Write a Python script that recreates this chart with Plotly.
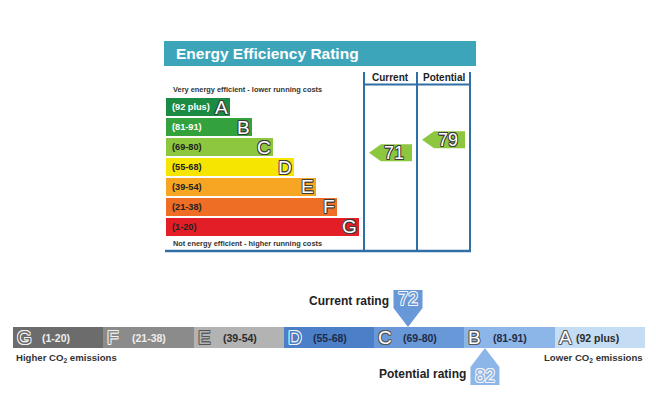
import plotly.graph_objects as go

W, H = 656, 411
FONT = "Liberation Sans, Arial, sans-serif"

# ---------------- data ----------------
bands = ["A", "B", "C", "D", "E", "F", "G"]
band_ranges = ["(92 plus)", "(81-91)", "(69-80)", "(55-68)", "(39-54)", "(21-38)", "(1-20)"]
band_lo = [92, 81, 69, 55, 39, 21, 1]
band_hi = [100, 91, 80, 68, 54, 38, 20]
band_lengths = [3, 4, 5, 6, 7, 8, 9]
eer_colors = ["#1b8a43", "#33a23d", "#8dc63f", "#f6e500", "#f6a623", "#ee6e25", "#e31e26"]
eer_text_colors = ["white", "white", "#222222", "#222222", "#222222", "#222222", "#222222"]

current_eer = 71
potential_eer = 79

# environmental impact strip (same bands, shown G -> A)
co2_colors = {"G": "#6c6c6c", "F": "#8b8b8b", "E": "#b3b3b3", "D": "#4b7fc8",
              "C": "#6898d7", "B": "#8db6e8", "A": "#c4dcf4"}
co2_text_colors = {"G": "#eeeeee", "F": "#eeeeee", "E": "#2b2b2b", "D": "#1e2c48",
                   "C": "#1e2c48", "B": "#1e2c48", "A": "#2b2b2b"}
current_ei = 72
potential_ei = 82

title_text = "Energy Efficiency Rating"
top_note = "Very energy efficient - lower running costs"
bottom_note = "Not energy efficient - higher running costs"
col_headers = ["Current", "Potential"]


def px(x):
    return x / W


def py(y):
    return 1 - y / H


def band_of(v):
    for i, (lo, hi) in enumerate(zip(band_lo, band_hi)):
        if lo <= v <= hi:
            return i
    return len(bands) - 1


def outline(c, w=1):
    return ", ".join(f"{a}px {b}px 0 {c}" for a, b in [(-w, -w), (w, -w), (-w, w), (w, w), (0, w), (0, -w), (w, 0), (-w, 0)])


HB = 0.453  # half bar thickness in band units


def eer_y(v):
    i = band_of(v)
    return i + HB - (v - band_lo[i]) / (band_hi[i] - band_lo[i]) * 2 * HB


def ei_x(v):
    i = band_of(v)
    j = len(bands) - 1 - i
    return j + (v - band_lo[i] + 1.5) / (band_hi[i] - band_lo[i] + 1)


fig = go.Figure()

# ---------------- top: energy efficiency bars ----------------
idx = list(range(len(bands)))
fig.add_trace(go.Bar(
    orientation="h", x=band_lengths, y=idx, width=2 * HB,
    marker=dict(color=eer_colors, line=dict(width=0)),
    xaxis="x", yaxis="y", hoverinfo="skip", showlegend=False))

# ---------------- bottom: environmental strip ----------------
order = bands[::-1]
fig.add_trace(go.Bar(
    x=[j + 0.5 for j in range(len(order))], y=[1] * len(order), width=1,
    marker=dict(color=[co2_colors[b] for b in order], line=dict(width=0)),
    xaxis="x2", yaxis="y2", hoverinfo="skip", showlegend=False))

shapes = []
ann = []

# title bar
shapes.append(dict(type="rect", xref="paper", yref="paper", x0=px(164), x1=px(476),
                   y0=py(66), y1=py(41), fillcolor="#3ca5b9", line=dict(width=0), layer="below"))
ann.append(dict(xref="paper", yref="paper", x=px(174), y=py(53.5), xanchor="left", yanchor="middle",
                text=f"<b>{title_text}</b>", showarrow=False,
                font=dict(family=FONT, size=15.5, color="white")))

# table lines
LC = "#2f6fa6"
for xv in (364, 417, 470):
    shapes.append(dict(type="line", xref="paper", yref="paper", x0=px(xv), x1=px(xv),
                       y0=py(72), y1=py(251), line=dict(color=LC, width=2)))
shapes.append(dict(type="line", xref="paper", yref="paper", x0=px(364), x1=px(470),
                   y0=py(84.5), y1=py(84.5), line=dict(color=LC, width=2)))
shapes.append(dict(type="line", xref="paper", yref="paper", x0=px(165), x1=px(471),
                   y0=py(251), y1=py(251), line=dict(color=LC, width=2.5)))
for name, cx in zip(col_headers, (390.5, 443.5)):
    ann.append(dict(xref="paper", yref="paper", x=px(cx), y=py(77), xanchor="center", yanchor="middle",
                    text=f"<b>{name}</b>", showarrow=False, font=dict(family=FONT, size=10, color="#222")))

ann.append(dict(xref="paper", yref="paper", x=px(171), y=py(89.5), xanchor="left", yanchor="middle",
                text=f"<b>{top_note}</b>", showarrow=False, font=dict(family=FONT, size=7.4, color="#333")))
ann.append(dict(xref="paper", yref="paper", x=px(171), y=py(243), xanchor="left", yanchor="middle",
                text=f"<b>{bottom_note}</b>", showarrow=False, font=dict(family=FONT, size=7.4, color="#333")))

for i, b in enumerate(bands):
    ann.append(dict(xref="x", yref="y", x=0, y=i, xanchor="left", yanchor="middle", xshift=4,
                    text=f"<b>{band_ranges[i]}</b>", showarrow=False,
                    font=dict(family=FONT, size=9.2, color=eer_text_colors[i])))
    ann.append(dict(xref="x", yref="y", x=band_lengths[i], y=i, xanchor="right", yanchor="middle", xshift=0,
                    yshift=0, text=b, showarrow=False,
                    font=dict(family=FONT, size=19, color="white", shadow=outline("#3a3a3a", 0.8))))

# current / potential arrows
for v, (cl, cr) in ((current_eer, (364, 417)), (potential_eer, (417, 470))):
    i = band_of(v)
    tip, right = cl + 5, cr - 5
    yv = eer_y(v)
    path = f"M {tip},0 L {tip + 12},8.5 L {right},8.5 L {right},-8.5 L {tip + 12},-8.5 Z"
    shapes.append(dict(type="path", xref="paper", yref="y", xsizemode="pixel", ysizemode="pixel",
                       xanchor=0, yanchor=yv, path=path,
                       fillcolor=eer_colors[i], line=dict(width=0)))
    ann.append(dict(xref="paper", yref="y", x=px((tip + 12 + right) / 2 - 2), y=yv, xanchor="center",
                    yanchor="middle", text=str(v), showarrow=False,
                    font=dict(family=FONT, size=18, color="white", shadow=outline("#3a3a3a", 0.8))))

# bottom strip labels
for j, b in enumerate(order):
    i = bands.index(b)
    lc = "white" if b in ("C", "B", "A") else co2_colors[b]
    oc = "#555555" if b in ("C", "B", "A", "E") else "#f2f2f2"
    ann.append(dict(xref="x2", yref="y2", x=j, y=0.5, xanchor="left", yanchor="middle", xshift=2,
                    text=b, showarrow=False,
                    font=dict(family=FONT, size=19, color=lc, shadow=outline(oc, 0.8))))
    ann.append(dict(xref="x2", yref="y2", x=j, y=0.5, xanchor="left", yanchor="middle",
                    xshift=19 if b == "A" else 27,
                    text=f"<b>{band_ranges[i]}</b>", showarrow=False,
                    font=dict(family=FONT, size=10.5, color=co2_text_colors[b])))

# pointers (y anchored in paper coords at the strip's top / bottom edge)
STRIP_TOP, STRIP_BOT = 327, 348
for v, up, label in ((current_ei, True, "Current rating"), (potential_ei, False, "Potential rating")):
    xv = ei_x(v)
    col = co2_colors[bands[band_of(v)]]
    s = 1 if up else -1
    anchor_y = py(STRIP_TOP) if up else py(STRIP_BOT)
    path = (f"M 0,0 L 14.5,{19 * s} L 14.5,{37 * s} L -14.5,{37 * s} L -14.5,{19 * s} Z")
    shapes.append(dict(type="path", xref="x2", yref="paper", xsizemode="pixel", ysizemode="pixel",
                       xanchor=xv, yanchor=anchor_y, path=path, fillcolor=col, line=dict(width=0)))
    ann.append(dict(xref="x2", yref="paper", x=xv, y=anchor_y, yshift=28 * s, xanchor="center",
                    yanchor="middle", text=str(v), showarrow=False,
                    font=dict(family=FONT, size=18, color=col, shadow=outline("#f4f4f4", 0.8))))
    ann.append(dict(xref="x2", yref="paper", x=xv, y=anchor_y, yshift=26 * s, xshift=-17,
                    xanchor="right", yanchor="middle", text=f"<b>{label}</b>", showarrow=False,
                    font=dict(family=FONT, size=12, color="#222")))

ann.append(dict(xref="paper", yref="paper", x=px(14), y=py(358), xanchor="left", yanchor="middle",
                text="<b>Higher CO<sub>2</sub> emissions</b>", showarrow=False,
                font=dict(family=FONT, size=9.6, color="#333")))
ann.append(dict(xref="paper", yref="paper", x=px(645), y=py(358), xanchor="right", yanchor="middle",
                text="<b>Lower CO<sub>2</sub> emissions</b>", showarrow=False,
                font=dict(family=FONT, size=9.6, color="#333")))

hidden = dict(visible=False, showgrid=False, zeroline=False, fixedrange=True)
fig.update_layout(
    width=W, height=H, margin=dict(l=0, r=0, t=0, b=0),
    paper_bgcolor="white", plot_bgcolor="white",
    bargap=0, showlegend=False,
    xaxis=dict(range=[0, 10], domain=[px(166), px(380)], anchor="y", **hidden),
    yaxis=dict(range=[6.5, -0.5], domain=[py(236.5), py(97.5)], anchor="x", **hidden),
    xaxis2=dict(range=[0, 7], domain=[px(13), px(645)], anchor="y2", **hidden),
    yaxis2=dict(range=[0, 1], domain=[py(348), py(327)], anchor="x2", **hidden),
    shapes=shapes, annotations=ann,
)

fig.write_html("out.html", config=dict(displayModeBar=False, staticPlot=True),
               post_script="document.body.style.margin='0';document.body.style.padding='0';")
